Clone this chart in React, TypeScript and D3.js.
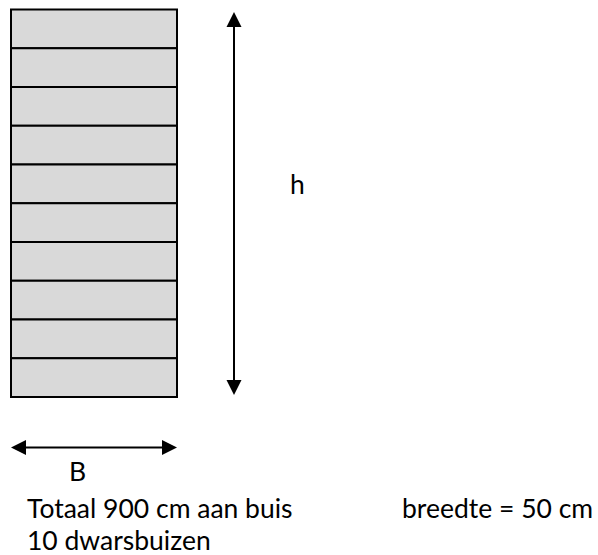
import React from "react";
import * as d3 from "d3";

// de 10 dwarsbuizen (vakken van de ladder), van boven naar onder
const dwarsbuizen = [1, 2, 3, 4, 5, 6, 7, 8, 9, 10];

// maten in cm
const breedteCm = 50;
const hoogteCm = 400; // (900 - 10 * 50) / 1

const labelH = "h";
const labelB = "B";
const tekstRegels = ["Totaal 900 cm aan buis", "10 dwarsbuizen"];
const tekstBreedte = "breedte = 50 cm";

const W = 598;
const H = 555;
const FONT = "Lato, 'Open Sans', sans-serif";
const FS = 26.5;

function Arrow({ x1, y1, x2, y2 }: { x1: number; y1: number; x2: number; y2: number }) {
  // line with filled triangle heads at both ends
  const len = 15, half = 7.5;
  const ang = Math.atan2(y2 - y1, x2 - x1);
  const head = (tx: number, ty: number, a: number) => {
    const bx = tx - len * Math.cos(a), by = ty - len * Math.sin(a);
    const px = -Math.sin(a) * half, py = Math.cos(a) * half;
    return `M${tx},${ty}L${bx + px},${by + py}L${bx - px},${by - py}Z`;
  };
  return (
    <g>
      <line
        x1={x1 + (len - 2) * Math.cos(ang)}
        y1={y1 + (len - 2) * Math.sin(ang)}
        x2={x2 - (len - 2) * Math.cos(ang)}
        y2={y2 - (len - 2) * Math.sin(ang)}
        stroke="#000"
        strokeWidth={2}
      />
      <path d={head(x2, y2, ang)} fill="#000" />
      <path d={head(x1, y1, ang + Math.PI)} fill="#000" />
    </g>
  );
}

function Ladder() {
  const x = d3.scaleLinear().domain([0, breedteCm]).range([11, 177]);
  const y = d3.scaleBand<number>().domain(dwarsbuizen).range([9.5, 397]).padding(0);
  const hScale = d3.scaleLinear().domain([0, hoogteCm]).range([395, 12]);

  return (
    <svg width={W} height={H} style={{ position: "absolute", left: 0, top: 0 }}>
      <rect width={W} height={H} fill="#fff" />
      {dwarsbuizen.map((d) => (
        <rect
          key={d}
          x={x(0)}
          y={y(d)}
          width={x(breedteCm) - x(0)}
          height={y.bandwidth()}
          fill="#d9d9d9"
          stroke="#000"
          strokeWidth={2}
        />
      ))}

      {/* hoogte pijl */}
      <Arrow x1={234} y1={hScale(hoogteCm)} x2={234} y2={hScale(0)} />
      <text x={290} y={194} fontFamily={FONT} fontSize={FS} fill="#000">
        {labelH}
      </text>

      {/* breedte pijl */}
      <Arrow x1={x(0)} y1={447.5} x2={x(breedteCm)} y2={447.5} />
      <text x={69} y={481} fontFamily={FONT} fontSize={FS} fill="#000">
        {labelB}
      </text>

      {tekstRegels.map((t, i) => (
        <text key={t} x={27} y={518 + i * 32} fontFamily={FONT} fontSize={FS} fill="#000">
          {t}
        </text>
      ))}
      <text x={402} y={518} fontFamily={FONT} fontSize={FS} fill="#000">
        {tekstBreedte}
      </text>
    </svg>
  );
}

export default function App() {
  return <Ladder />;
}
